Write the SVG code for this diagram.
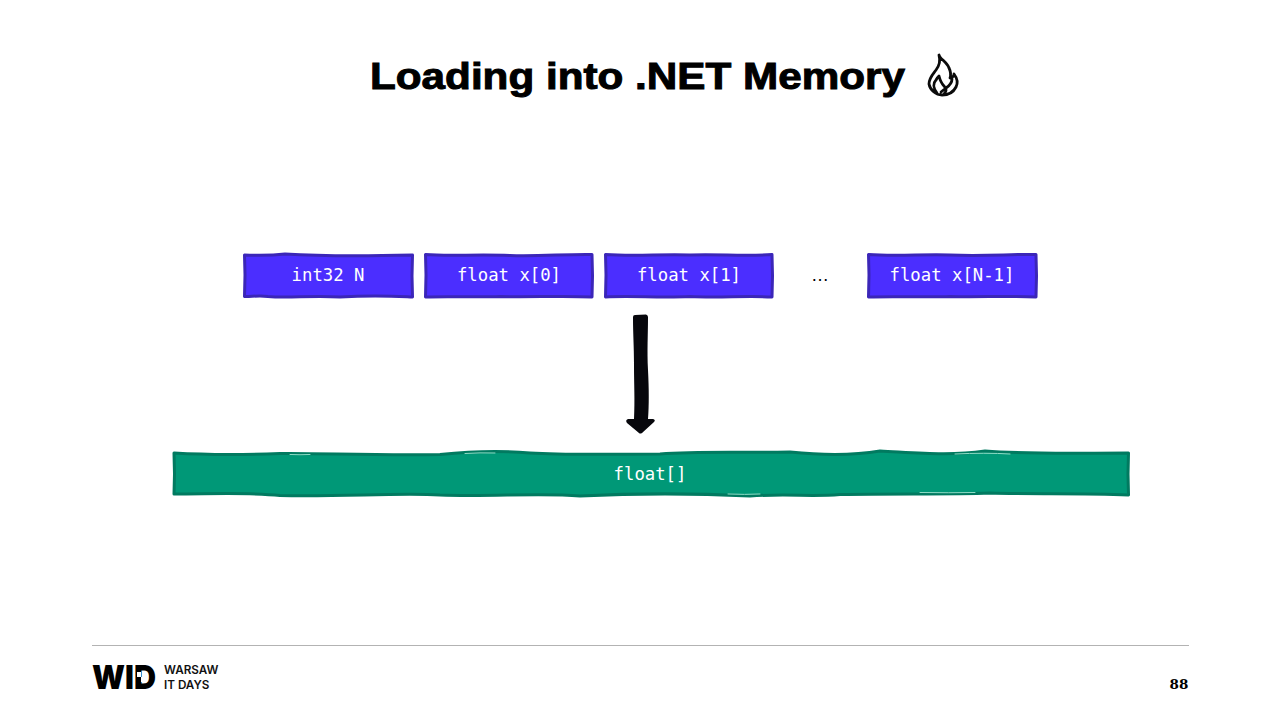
<svg xmlns="http://www.w3.org/2000/svg" width="1280" height="720" viewBox="0 0 1280 720">
<style>
.blue{fill:#4b2eff;stroke:#3b26b8;stroke-width:3;stroke-linejoin:round}
.green{fill:#009877;stroke:#017a60;stroke-width:3;stroke-linejoin:round}
.hi{fill:none;stroke:#8fdcc6;stroke-width:1;stroke-linecap:round}
.code{font-family:"DejaVu Sans Mono","Liberation Mono",monospace;font-size:17.3px;fill:#fff;text-anchor:middle}
.foot{font-family:"Inter","Liberation Sans",sans-serif;font-size:11.700px;font-weight:600;fill:#111}
</style>
<rect width="1280" height="720" fill="#fff"/>
<g id="title">
<text x="370" y="88.500" font-family="'Liberation Sans',Arial,sans-serif" font-size="37.500" font-weight="700" fill="#000" stroke="#000" stroke-width="1" textLength="535" lengthAdjust="spacingAndGlyphs">Loading into .NET Memory</text>
<path d="M939 55C940 59 947 62 949 68C951 72 951 75 950 78C952 78 954 76 954 74C957 78 958 83 956 87C953 93 948 95 942 95C936 95 930 90 929 84C929 78 933 74 936 70C939 66 941 62 939 55ZM937 93C933 88 933 83 936 80C937 78 938 77 939 76C940 80 942 84 944 86C947 89 947 91 944 94M941 92L946 88C949 86 952 83 952 79" fill="none" stroke="#0b0b0b" stroke-width="2.800" stroke-linejoin="round" stroke-linecap="round"/>
</g>
<g id="node-int32">
<path class="blue" d="M244.500 255C262 255.500 268 256 285 254C310 255.500 350 256.500 412.500 255L412 276L412.500 297C390 296 375 295 340 297C310 295 290 298.500 268 296.500C258 295 250 297 244.500 296.500L245 275Z"/>
<text class="code" x="328" y="281">int32 N</text>
</g>
<g id="node-x0">
<path class="blue" d="M425.500 254.500C450 256.500 475 254 510 255.500C540 256.500 565 254 592 254.500L592.500 276L592 297C560 295.500 530 297.500 500 296.500C475 297.500 450 296 425.500 297L426 275Z"/>
<text class="code" x="509" y="281">float x[0]</text>
</g>
<g id="node-x1">
<path class="blue" d="M605.500 254.500C635 256.500 660 254 690 255C720 254 745 256.500 772 254.500L772.500 276L772 297C745 295.500 720 298 690 296.500C660 298 630 295.500 605.500 297L606 275Z"/>
<text class="code" x="689" y="281">float x[1]</text>
</g>
<g id="ellipsis">
<text x="820" y="281" font-family="'Liberation Sans',sans-serif" font-size="18" fill="#000" text-anchor="middle">…</text>
</g>
<g id="node-xn">
<path class="blue" d="M868.500 254.500C895 256.500 925 254 950 255C985 256.500 1010 254 1036 254.500L1036.500 276L1036 297C1005 295.500 980 297.500 950 296.500C925 297.500 895 296 868.500 297L869 275Z"/>
<text class="code" x="952" y="281">float x[N-1]</text>
</g>
<g id="connectors">
<path d="M635 315L646 314.500Q648 315 648 317C648 335 647 350 648 370C649 390 649 405 648 419L653 419Q656 420 654 422L642 433Q640 434 639 433L627 423Q625 420 628 419L634 419C635 400 634 385 634 365C634 345 633 335 633 317Q633 315 635 315Z" fill="#07070c"/>
</g>
<g id="node-array">
<path class="green" d="M174 453C200 454.500 240 455 280 453.500C320 453 370 455.500 440 454.500C470 451.500 500 450.500 530 453C570 455.500 620 454 660 454C700 451 740 453 790 452C815 454.500 850 456 880 451C920 453 950 456 985 451C1030 454.500 1080 453 1128.500 453L1128 474L1128.500 495C1080 492.500 1030 494.500 990 493C950 494.500 900 493.500 840 494.500C810 497 790 493.500 750 496C700 493.500 650 492.500 580 496C540 492.500 490 497 440 495C400 492.500 340 497 280 495.500C250 492 210 494 174 494L174.500 474Z"/>
<path class="hi" d="M290 454.500Q300 455 310 454.500M465 453.500Q480 452.500 495 453M955 454Q985 452.500 1010 454M728 494Q745 494.800 760 494M920 492.500Q950 493 975 492.500"/>
<text class="code" x="650" y="480">float[]</text>
</g>
<g id="footer">
<line x1="92" y1="645.500" x2="1189" y2="645.500" stroke="#b3b3b3" stroke-width="1"/>
<text x="92" y="689" font-family="Inter,'Liberation Sans',sans-serif" font-size="33" font-weight="900" fill="#000" textLength="64" lengthAdjust="spacingAndGlyphs">WID</text>
<rect x="137" y="672" width="4" height="5" fill="#fff"/>
<rect x="141" y="677" width="5" height="5" fill="#fff"/>
<text class="foot" x="164" y="674">WARSAW</text>
<text class="foot" x="164" y="689">IT DAYS</text>
<text x="1179" y="689" font-family="'DejaVu Serif',serif" font-size="13.500" font-weight="700" fill="#000" text-anchor="middle">88</text>
</g>
</svg>
